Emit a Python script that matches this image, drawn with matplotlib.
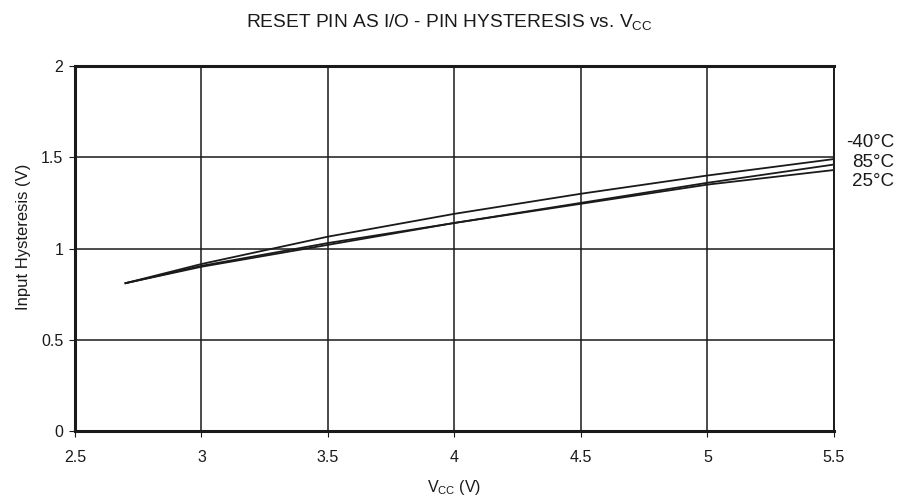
import matplotlib
matplotlib.use('Agg')
import matplotlib.pyplot as plt

plt.rcParams['font.family'] = ['Liberation Sans', 'DejaVu Sans']
plt.rcParams['mathtext.default'] = 'regular'

# supply voltage (V)
vcc = [2.7, 3.0, 3.5, 4.0, 4.5, 5.0, 5.5]
# input hysteresis (V) per temperature
hyst_m40 = [0.81, 0.915, 1.065, 1.19, 1.30, 1.40, 1.49]
hyst_85 = [0.81, 0.905, 1.03, 1.14, 1.25, 1.36, 1.46]
hyst_25 = [0.81, 0.90, 1.02, 1.14, 1.245, 1.35, 1.43]
labels = ['-40°C', '85°C', '25°C']

fig = plt.figure(figsize=(9.03, 4.98), dpi=100)
ax = fig.add_axes([0.083, 0.1345, 0.8405, 0.733])

for ys in [hyst_m40, hyst_85, hyst_25]:
    ax.plot(vcc, ys, color='#1a1a1a', linewidth=1.3)

ax.set_xlim(2.5, 5.5)
ax.set_ylim(0, 2)
ax.set_xticks([2.5, 3, 3.5, 4, 4.5, 5, 5.5])
ax.set_xticklabels(['2.5', '3', '3.5', '4', '4.5', '5', '5.5'])
ax.set_yticks([0, 0.5, 1, 1.5, 2])
ax.set_yticklabels(['0', '0.5', '1', '1.5', '2'])
ax.grid(True, color='#1a1a1a', linewidth=1.1)
ax.tick_params(direction='out', length=4, width=0.8, labelsize=11.5,
               colors='#1a1a1a')
ax.tick_params(axis='x', pad=9.5)
ax.tick_params(axis='y', pad=4.5)

for side in ['top', 'left', 'bottom']:
    ax.spines[side].set_linewidth(2.2)
ax.spines['right'].set_linewidth(1.4)
for sp in ax.spines.values():
    sp.set_color('#1a1a1a')

# curve labels at right
for lab, yv in zip(labels, [1.58, 1.47, 1.365]):
    ax.text(1.0795, yv, lab, transform=ax.get_yaxis_transform(),
            ha='right', va='center', fontsize=13.5, color='#1a1a1a')

fig.text(0.498, 0.956, 'RESET PIN AS I/O - PIN HYSTERESIS vs. V$_{CC}$',
         ha='center', va='center', fontsize=13.8, color='#1a1a1a')
ax.set_xlabel('V$_{CC}$ (V)', fontsize=11.5, color='#1a1a1a')
ax.set_ylabel('Input Hysteresis (V)', fontsize=12, color='#1a1a1a')
ax.xaxis.set_label_coords(0.5, -0.129)
ax.yaxis.set_label_coords(-0.058, 0.531)

fig.savefig('out.png', dpi=100)
